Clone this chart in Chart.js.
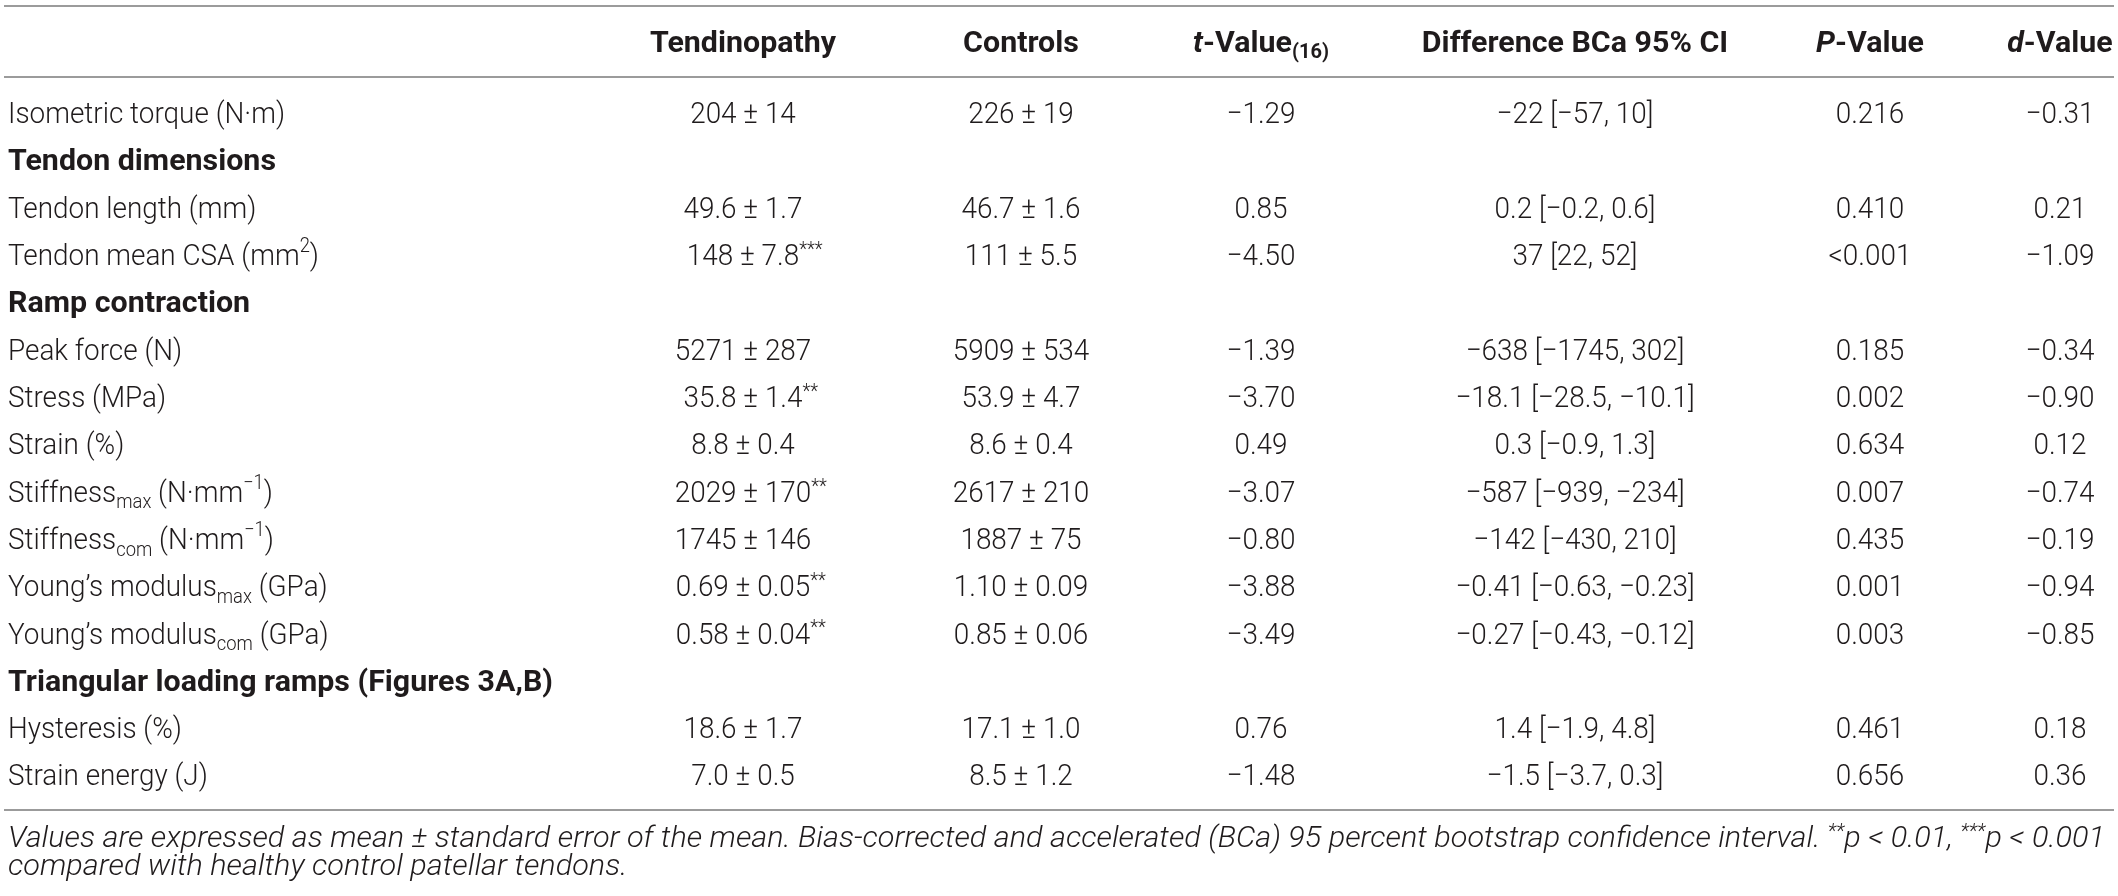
<!DOCTYPE html>
<html>
<head>
<meta charset="utf-8">
<script src="https://cdn.jsdelivr.net/npm/chart.js@4.4.1/dist/chart.umd.min.js"></script>
<style>
html,body{margin:0;padding:0;background:#ffffff;}
#wrap{width:2118px;height:896px;position:relative;}
</style>
</head>
<body>
<div id="wrap"><canvas id="c"></canvas></div>
<script>
// ---------------- data ----------------
const headers = ["Tendinopathy", "Controls", "*t*-Value_{(16)}", "Difference BCa 95% CI", "*P*-Value", "*d*-Value"];
const rowLabels = [
  "Isometric torque (N·m)",
  "Tendon dimensions",
  "Tendon length (mm)",
  "Tendon mean CSA (mm^{2})",
  "Ramp contraction",
  "Peak force (N)",
  "Stress (MPa)",
  "Strain (%)",
  "Stiffness_{max} (N·mm^{−1})",
  "Stiffness_{com} (N·mm^{−1})",
  "Young’s modulus_{max} (GPa)",
  "Young’s modulus_{com} (GPa)",
  "Triangular loading ramps (Figures 3A,B)",
  "Hysteresis (%)",
  "Strain energy (J)"
];
const sectionRows = [1, 4, 12];
const tendinopathy = ["204 ± 14", "", "49.6 ± 1.7", "148 ± 7.8^{***}", "", "5271 ± 287", "35.8 ± 1.4^{**}", "8.8 ± 0.4", "2029 ± 170^{**}", "1745 ± 146", "0.69 ± 0.05^{**}", "0.58 ± 0.04^{**}", "", "18.6 ± 1.7", "7.0 ± 0.5"];
const controls = ["226 ± 19", "", "46.7 ± 1.6", "111 ± 5.5", "", "5909 ± 534", "53.9 ± 4.7", "8.6 ± 0.4", "2617 ± 210", "1887 ± 75", "1.10 ± 0.09", "0.85 ± 0.06", "", "17.1 ± 1.0", "8.5 ± 1.2"];
const tValues = ["−1.29", "", "0.85", "−4.50", "", "−1.39", "−3.70", "0.49", "−3.07", "−0.80", "−3.88", "−3.49", "", "0.76", "−1.48"];
const differences = ["−22 [−57, 10]", "", "0.2 [−0.2, 0.6]", "37 [22, 52]", "", "−638 [−1745, 302]", "−18.1 [−28.5, −10.1]", "0.3 [−0.9, 1.3]", "−587 [−939, −234]", "−142 [−430, 210]", "−0.41 [−0.63, −0.23]", "−0.27 [−0.43, −0.12]", "", "1.4 [−1.9, 4.8]", "−1.5 [−3.7, 0.3]"];
const pValues = ["0.216", "", "0.410", "<0.001", "", "0.185", "0.002", "0.634", "0.007", "0.435", "0.001", "0.003", "", "0.461", "0.656"];
const dValues = ["−0.31", "", "0.21", "−1.09", "", "−0.34", "−0.90", "0.12", "−0.74", "−0.19", "−0.94", "−0.85", "", "0.18", "0.36"];
const footnotes = [
  "Values are expressed as mean ± standard error of the mean. Bias-corrected and accelerated (BCa) 95 percent bootstrap confidence interval. ^{**}p < 0.01, ^{***}p < 0.001",
  "compared with healthy control patellar tendons."
];
const columns = [tendinopathy, controls, tValues, differences, pValues, dValues];

// ---------------- layout / style ----------------
const W = 2118, H = 896;
const LAYOUT = {
  labelX: 8,
  colX: [743, 1021, 1261, 1575, 1870, 2060],
  ruleX: [4, 2114],
  firstRowY: 112.5,
  rowPitch: 47.3,
  headerRow: -1.5,
  topRule: -2.258,
  headRule: -0.75,
  bottomRule: 14.746,
  footRows: [15.30, 15.89]
};
const FAMILY = "Roboto, 'Liberation Sans', Arial, sans-serif";
const CAP = 0.711;
const TEXT = "#1f1b1c";
const RULE = "#9b9b9b";

const canvas = document.getElementById('c');
const mctx = document.createElement('canvas').getContext('2d');

function parseRich(s) {
  const segs = []; let i = 0, mode = 'n', italic = false, buf = '';
  const push = () => { if (buf) { segs.push({ t: buf, mode, italic }); buf = ''; } };
  while (i < s.length) {
    const c = s[i];
    if ((c === '_' || c === '^') && s[i + 1] === '{') { push(); mode = c === '_' ? 'sub' : 'sup'; i += 2; continue; }
    if (c === '}' && mode !== 'n') { push(); mode = 'n'; i++; continue; }
    if (c === '*' && mode === 'n') { push(); italic = !italic; i++; continue; }
    buf += c; i++;
  }
  push();
  return segs;
}
function segFont(seg, st) {
  const size = st.size * (seg.mode === 'n' ? 1 : 0.66);
  const it = (st.italic !== seg.italic) ? 'italic ' : '';
  return it + st.weight + ' ' + size.toFixed(2) + 'px ' + FAMILY;
}
function richWidth(ctx, segs, st, excludeTrailingSup) {
  let w = 0; const ws = [];
  segs.forEach(sg => { ctx.font = segFont(sg, st); const m = ctx.measureText(sg.t).width * st.sx; ws.push(m); w += m; });
  let anchor = w;
  if (excludeTrailingSup) {
    for (let k = segs.length - 1; k >= 0 && segs[k].mode === 'sup'; k--) anchor -= ws[k];
  }
  return { w, ws, anchor };
}
function drawRich(ctx, text, x, yc, align, st, excl) {
  const segs = parseRich(text);
  const m = richWidth(ctx, segs, st, excl);
  let cx = align === 'center' ? x - m.anchor / 2 : x;
  const base = yc + st.size * CAP / 2;
  segs.forEach((sg, k) => {
    ctx.font = segFont(sg, st);
    let dy = 0;
    if (sg.mode === 'sub') dy = st.size * 0.22;
    if (sg.mode === 'sup') dy = /^\*+$/.test(sg.t) ? -st.size * 0.30 : -st.size * 0.42;
    ctx.save();
    ctx.fillStyle = TEXT;
    ctx.textBaseline = 'alphabetic';
    ctx.textAlign = 'left';
    ctx.translate(cx, base + dy);
    ctx.scale(st.sx, 1);
    ctx.fillText(sg.t, 0, 0);
    ctx.restore();
    cx += m.ws[k];
  });
}
// style fitted to the reference: cap height and width of a sample string
function makeStyle(sample, weight, italic, capPx, targetW) {
  const st = { size: capPx / CAP, weight, italic, sx: 1 };
  st.sx = targetW / richWidth(mctx, parseRich(sample), st, false).w;
  return st;
}
const STY = {
  body: makeStyle(rowLabels[0], 300, false, 21.5, 277),
  bold: makeStyle(rowLabels[1], 700, false, 20.8, 268),
  foot: makeStyle(footnotes[0], 300, true, 21.5, 2097)
};

// ---------------- datasets (one per text column) ----------------
const datasets = [];
datasets.push({
  label: 'labels', align: 'left',
  data: rowLabels.map((t, i) => ({ x: LAYOUT.labelX, y: i, t, s: sectionRows.includes(i) ? 'bold' : 'body' }))
});
datasets.push({
  label: 'headers', align: 'center',
  data: headers.map((t, j) => ({ x: LAYOUT.colX[j], y: LAYOUT.headerRow, t, s: 'bold' }))
});
columns.forEach((col, j) => {
  datasets.push({
    label: 'col' + j, align: 'center', excl: true,
    data: col.map((t, i) => ({ x: LAYOUT.colX[j], y: i, t, s: 'body' })).filter(p => p.t !== '')
  });
});
datasets.push({
  label: 'foot', align: 'left',
  data: footnotes.map((t, i) => ({ x: LAYOUT.labelX, y: LAYOUT.footRows[i], t, s: 'foot' }))
});
datasets.forEach(d => { d.pointRadius = 0; d.pointHoverRadius = 0; d.showLine = false; d.clip = false; });

const tablePlugin = {
  id: 'tableText',
  beforeDatasetsDraw(chart) {
    const ctx = chart.ctx, y = chart.scales.y, x = chart.scales.x;
    ctx.save();
    ctx.strokeStyle = RULE; ctx.lineWidth = 2;
    [LAYOUT.topRule, LAYOUT.headRule, LAYOUT.bottomRule].forEach(v => {
      const py = Math.round(y.getPixelForValue(v));
      ctx.beginPath();
      ctx.moveTo(x.getPixelForValue(LAYOUT.ruleX[0]), py);
      ctx.lineTo(x.getPixelForValue(LAYOUT.ruleX[1]), py);
      ctx.stroke();
    });
    ctx.restore();
  },
  afterDatasetsDraw(chart) {
    const ctx = chart.ctx;
    ctx.save();
    chart.data.datasets.forEach((ds, di) => {
      const meta = chart.getDatasetMeta(di);
      meta.data.forEach((el, k) => {
        const p = ds.data[k];
        drawRich(ctx, p.t, el.x, el.y, ds.align, STY[p.s], !!ds.excl);
      });
    });
    ctx.restore();
  }
};

const yMin = -LAYOUT.firstRowY / LAYOUT.rowPitch;
new Chart(canvas, {
  type: 'scatter',
  data: { datasets },
  options: {
    responsive: true,
    maintainAspectRatio: false,
    animation: false,
    events: [],
    layout: { padding: 0 },
    plugins: { legend: { display: false }, tooltip: { enabled: false } },
    scales: {
      x: { type: 'linear', min: 0, max: W, display: false },
      y: { type: 'linear', reverse: true, min: yMin, max: yMin + H / LAYOUT.rowPitch, display: false }
    }
  },
  plugins: [tablePlugin]
});
</script>
</body>
</html>
